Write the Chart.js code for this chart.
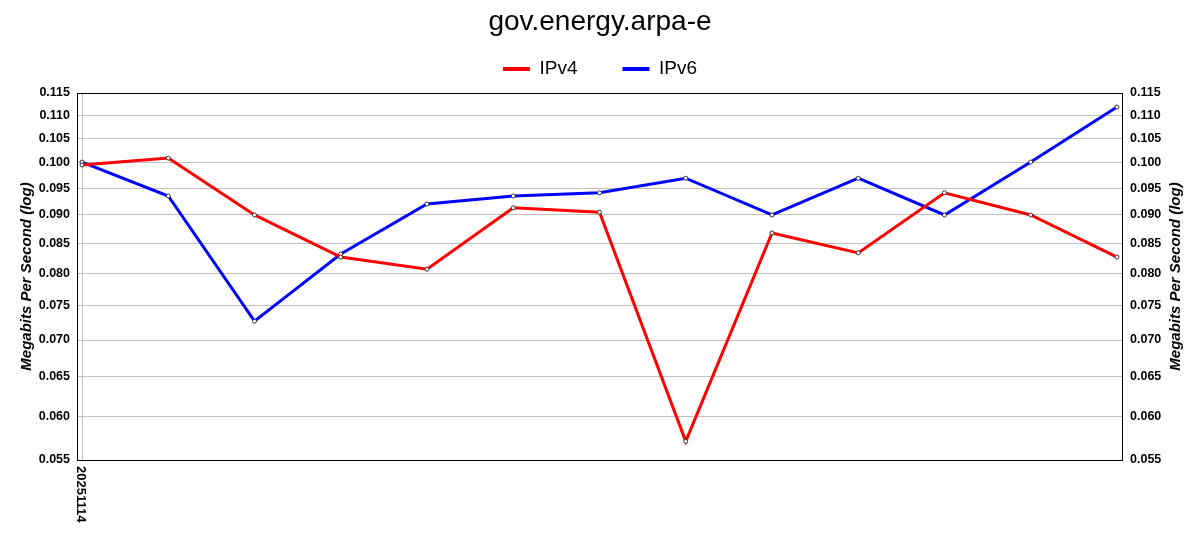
<!DOCTYPE html>
<html>
<head>
<meta charset="utf-8">
<script src="https://cdn.jsdelivr.net/npm/chart.js@4"></script>
<style>
  html, body { margin: 0; padding: 0; background: #fff; }
  #wrap { width: 1200px; height: 550px; }
</style>
</head>
<body>
<div id="wrap"><canvas id="speedChart" width="1200" height="550"></canvas></div>
<script>
const chartTitle = 'gov.energy.arpa-e';
const axisTitle = 'Megabits Per Second (log)';
const xTickLabels = ['20251114'];
const ipv4 = [0.0995, 0.1009, 0.0900, 0.0827, 0.0807, 0.0913, 0.0905, 0.0571, 0.0868, 0.0834, 0.0941, 0.0900, 0.0827];
const ipv6 = [0.1001, 0.0935, 0.0727, 0.0832, 0.0920, 0.0935, 0.0941, 0.0969, 0.0900, 0.0969, 0.0900, 0.1001, 0.1118];
const yTicks = [0.055, 0.060, 0.065, 0.070, 0.075, 0.080, 0.085, 0.090, 0.095, 0.100, 0.105, 0.110, 0.115];

const FONT = "'Liberation Sans', Arial, sans-serif";
const toPoints = (arr) => arr.map((v, i) => ({ x: i, y: v }));

// extra bits the stock scales can't do: top border, rotated date label, right-hand axis title
const extras = {
  id: 'extras',
  beforeLayout(chart) {
    const lg = chart.legend;
    if (lg && !lg._patched) {
      const fit = lg.fit;
      lg.fit = function () {
        fit.call(this);
        this.height = 93 - 14.6;
      };
      lg._patched = true;
    }
  },
  afterDatasetsDraw(chart) {
    const { ctx, chartArea } = chart;
    ctx.save();
    ctx.strokeStyle = '#000';
    ctx.lineWidth = 1;
    ctx.strokeRect(chartArea.left + 0.5, chartArea.top + 0.5, chartArea.right - chartArea.left, chartArea.bottom - chartArea.top);

    ctx.fillStyle = '#000';
    ctx.font = 'bold 13px ' + FONT;
    xTickLabels.forEach((label, i) => {
      const px = chart.scales.x.getPixelForValue(i);
      ctx.save();
      ctx.translate(px - 1, chartArea.bottom + 6);
      ctx.rotate(Math.PI / 2);
      ctx.textAlign = 'left';
      ctx.textBaseline = 'middle';
      ctx.fillText(label, 0, 0);
      ctx.restore();
    });

    ctx.font = 'italic bold 15px ' + FONT;
    ctx.translate(1176, (chartArea.top + chartArea.bottom) / 2);
    ctx.rotate(-Math.PI / 2);
    ctx.textAlign = 'center';
    ctx.textBaseline = 'middle';
    ctx.fillText(axisTitle, 0, 0);
    ctx.restore();
  },
};

const yTickOpts = {
  autoSkip: false,
  color: '#000',
  font: { family: FONT, size: 12.5, weight: 'bold' },
  callback: (v) => Number(v).toFixed(3),
};

const legendLabels = (chart) =>
  Chart.defaults.plugins.legend.labels.generateLabels(chart).map((l) => ({ ...l, lineWidth: 0 }));

new Chart(document.getElementById('speedChart').getContext('2d'), {
  type: 'line',
  data: {
    datasets: [
      {
        label: 'IPv4',
        data: toPoints(ipv4),
        borderColor: '#ff0000',
        backgroundColor: '#ff0000',
        borderWidth: 3,
        pointRadius: 2,
        pointBorderWidth: 1,
        pointBorderColor: '#333',
        pointBackgroundColor: '#fff',
        tension: 0,
        yAxisID: 'y',
      },
      {
        label: 'IPv6',
        data: toPoints(ipv6),
        borderColor: '#0000ff',
        backgroundColor: '#0000ff',
        borderWidth: 3,
        pointRadius: 2,
        pointBorderWidth: 1,
        pointBorderColor: '#333',
        pointBackgroundColor: '#fff',
        tension: 0,
        yAxisID: 'y',
      },
    ],
  },
  options: {
    responsive: false,
    animation: false,
    layout: { padding: 0 },
    scales: {
      x: {
        type: 'linear',
        min: -0.058,
        max: ipv4.length - 1 + 0.058,
        afterBuildTicks: (axis) => {
          axis.ticks = xTickLabels.map((_, i) => ({ value: i }));
        },
        afterFit: (s) => { s.height = 90; },
        ticks: { display: false },
        grid: { color: '#c0c0c0', drawTicks: false },
        border: { color: '#000' },
      },
      y: {
        type: 'logarithmic',
        position: 'left',
        min: 0.055,
        max: 0.115,
        afterBuildTicks: (axis) => {
          axis.ticks = yTicks.map((v) => ({ value: v }));
        },
        afterFit: (s) => { s.width = 77; },
        ticks: { ...yTickOpts, padding: 7 },
        grid: { color: '#c0c0c0', drawTicks: false },
        border: { color: '#000' },
        title: {
          display: true,
          text: axisTitle,
          color: '#000',
          font: { family: FONT, size: 15, weight: 'bold', style: 'italic' },
          padding: { top: 18, bottom: 0 },
        },
      },
      y2: {
        type: 'logarithmic',
        position: 'right',
        min: 0.055,
        max: 0.115,
        afterBuildTicks: (axis) => {
          axis.ticks = yTicks.map((v) => ({ value: v }));
        },
        afterFit: (s) => { s.width = 78; },
        ticks: { ...yTickOpts, padding: 8 },
        grid: { drawOnChartArea: false, drawTicks: false },
        border: { color: '#000' },
      },
    },
    plugins: {
      title: {
        display: true,
        text: chartTitle,
        color: '#000',
        font: { family: FONT, size: 28, weight: 'normal' },
        padding: { top: 5, bottom: -24 },
      },
      legend: {
        display: true,
        labels: {
          color: '#000',
          font: { family: FONT, size: 19 },
          boxWidth: 27,
          boxHeight: 4,
          padding: 45,
          generateLabels: legendLabels,
        },
      },
      tooltip: { enabled: false },
    },
  },
  plugins: [extras],
});
</script>
</body>
</html>
